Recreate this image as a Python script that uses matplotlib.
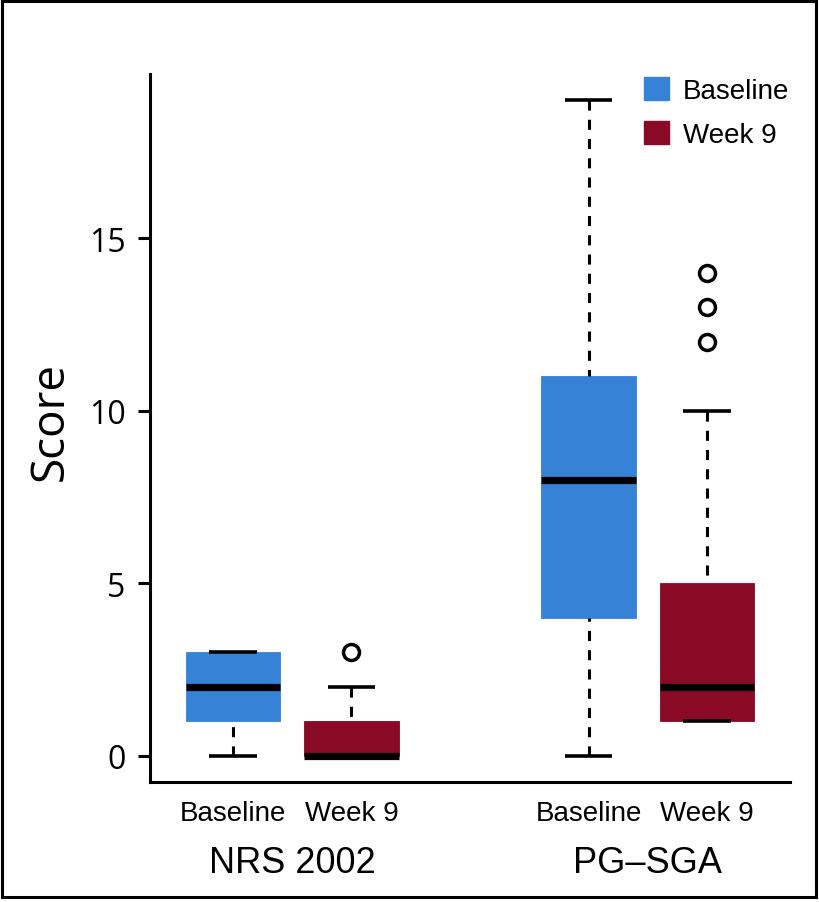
import matplotlib
matplotlib.use("Agg")
import matplotlib.pyplot as plt
from matplotlib.patches import Patch, Rectangle

# data
groups = ["NRS 2002", "PG\u2013SGA"]
timepoints = ["Baseline", "Week 9"]
positions = [1, 2, 4, 5]
whislo = [0, 0, 0, 1]
q1 = [1, 0, 4, 1]
med = [2, 0, 8, 2]
q3 = [3, 1, 11, 5]
whishi = [3, 2, 19, 10]
fliers = [[], [3], [], [12, 13, 14]]
yticks = [0, 5, 10, 15]

blue = "#3682D6"
red = "#8A0A25"
colors = [blue, red, blue, red]

W, H = 819, 903
fig = plt.figure(figsize=(W / 100, H / 100), dpi=100)
ax = fig.add_axes([150 / W, 120 / H, 640 / W, 708 / H])

stats = []
for i in range(len(positions)):
    stats.append(dict(whislo=whislo[i], q1=q1[i], med=med[i], q3=q3[i],
                      whishi=whishi[i], fliers=fliers[i]))

lw = 2.2
bp = ax.bxp(stats, positions=positions, widths=0.8, patch_artist=True,
            manage_ticks=False,
            boxprops=dict(linewidth=0.6),
            medianprops=dict(color="black", linewidth=5.2, solid_capstyle="butt"),
            whiskerprops=dict(color="black", linewidth=lw,
                              linestyle=(0, (3.3, 3.0)), dash_capstyle="butt"),
            capprops=dict(color="black", linewidth=2.6, solid_capstyle="butt"),
            capwidths=0.4,
            flierprops=dict(marker="o", markersize=11.5, markerfacecolor="white",
                            markeredgecolor="black", markeredgewidth=2.5))

for box, c in zip(bp["boxes"], colors):
    box.set_facecolor(c)
    box.set_edgecolor(c)

# whiskers drawn from the whisker end toward the box (as R does)
for w in bp["whiskers"]:
    xd, yd = w.get_data()
    w.set_data(xd[::-1], yd[::-1])

ax.set_xlim(0.3, 5.7)
ax.set_ylim(-0.76, 19.76)
ax.spines["top"].set_visible(False)
ax.spines["right"].set_visible(False)
ax.spines["left"].set_linewidth(2.2)
ax.spines["bottom"].set_linewidth(2.2)

ax.set_yticks(yticks)
ax.set_yticklabels([str(t) for t in yticks], fontfamily="Open Sans", fontsize=23)
ax.tick_params(axis="y", length=8.6, width=2.2, pad=9)

ax.set_xticks(positions)
ax.set_xticklabels(timepoints * 2, fontfamily="Liberation Sans", fontsize=20)
ax.tick_params(axis="x", length=0, pad=13)

trans = matplotlib.transforms.blended_transform_factory(ax.transData, fig.transFigure)
for g, name in enumerate(groups):
    xc = (positions[2 * g] + positions[2 * g + 1]) / 2
    ax.text(xc, 30 / H, name, transform=trans, ha="center", va="baseline",
            fontsize=26, family=["Liberation Sans Narrow", "Liberation Sans"])

fig.text(51 / W, 1 - 422 / H, "Score", rotation=90, ha="center", va="center",
         fontsize=33, fontfamily="Open Sans")

handles = [Patch(facecolor=blue, edgecolor=blue), Patch(facecolor=red, edgecolor=red)]
fig.legend(handles, timepoints, loc="upper left",
           bbox_to_anchor=(644 / W, 1 - 78 / H), bbox_transform=fig.transFigure,
           frameon=False, borderpad=0, borderaxespad=0,
           handlelength=0.9, handleheight=0.9, handletextpad=0.5,
           labelspacing=0.62, prop=dict(family="Liberation Sans", size=20))

# frame around the whole figure
fig.patches.append(Rectangle((1.5 / W, 5.5 / H), 814 / W, 896 / H,
                             transform=fig.transFigure, fill=False,
                             edgecolor="black", linewidth=2.2))

fig.savefig("out.png", dpi=100)
